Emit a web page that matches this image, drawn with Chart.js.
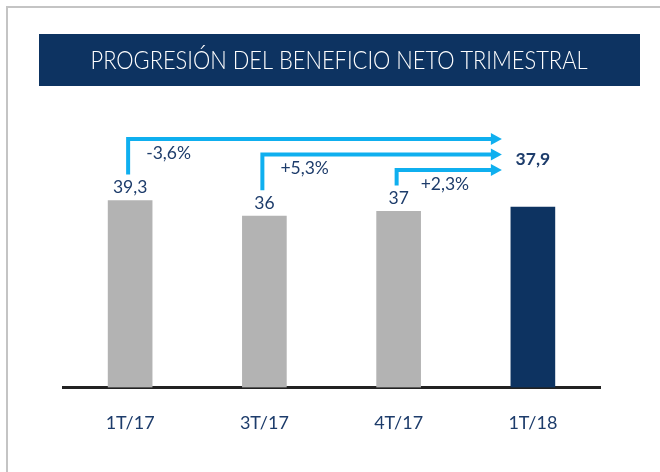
<!DOCTYPE html>
<html>
<head>
<meta charset="utf-8">
<script src="https://cdn.jsdelivr.net/npm/chart.js@4.4.0/dist/chart.umd.min.js"></script>
<style>
  html, body { margin: 0; padding: 0; background: #fff; }
  #wrap { width: 660px; height: 472px; }
</style>
</head>
<body>
<div id="wrap"><canvas id="beneficio"></canvas></div>
<script>
// datos
const titulo = 'PROGRESIÓN DEL BENEFICIO NETO TRIMESTRAL';
const trimestres = ['1T/17', '3T/17', '4T/17', '1T/18'];
const beneficio = [39.3, 36, 37, 37.9];
const variaciones = ['-3,6%', '+5,3%', '+2,3%'];

const NAVY = '#0d3361';
const TEXT = '#1d3c6b';
const GREY = '#b3b3b3';
const BLUE = '#0fafef';

const fmt = v => String(v).replace('.', ',');

const decoPlugin = {
  id: 'deco',
  beforeDraw(chart) {
    const ctx = chart.ctx;
    ctx.save();
    // marco gris
    ctx.strokeStyle = '#c4c4c4';
    ctx.lineWidth = 2;
    ctx.beginPath();
    ctx.moveTo(7, 472);
    ctx.lineTo(7, 7);
    ctx.lineTo(660, 7);
    ctx.stroke();
    // banda del titulo
    ctx.fillStyle = NAVY;
    ctx.fillRect(39, 34, 601, 52);
    ctx.fillStyle = '#fff';
    ctx.font = '300 25px Lato, "Open Sans", sans-serif';
    ctx.textAlign = 'center';
    ctx.textBaseline = 'middle';
    ctx.fillText(titulo, 339, 61, 497);
    ctx.restore();
  },
  afterDatasetsDraw(chart) {
    const ctx = chart.ctx;
    const bars = chart.getDatasetMeta(0).data;
    const last = bars[bars.length - 1];
    ctx.save();
    ctx.textBaseline = 'middle';
    ctx.textAlign = 'center';

    // valores sobre las barras
    ctx.fillStyle = TEXT;
    ctx.font = '17.5px Lato, sans-serif';
    for (let i = 0; i < bars.length - 1; i++) {
      ctx.fillText(fmt(beneficio[i]), bars[i].x, bars[i].y - 13);
    }
    ctx.font = 'bold 17.5px Lato, sans-serif';
    ctx.fillText(fmt(beneficio[bars.length - 1]), last.x, last.y - 48);

    // flechas hacia el ultimo trimestre
    const tipX = last.x - last.width / 2 - 9;
    for (let i = 0; i < variaciones.length; i++) {
      const b = bars[i];
      const x0 = b.x - 2;
      const yBottom = b.y - 26;
      const yLevel = last.y - 68 + i * 15.5;
      ctx.strokeStyle = BLUE;
      ctx.fillStyle = BLUE;
      ctx.lineWidth = 4;
      ctx.lineJoin = 'miter';
      ctx.beginPath();
      ctx.moveTo(x0, yBottom);
      ctx.lineTo(x0, yLevel);
      ctx.lineTo(tipX - 10, yLevel);
      ctx.stroke();
      ctx.beginPath();
      ctx.moveTo(tipX - 11, yLevel - 6);
      ctx.lineTo(tipX, yLevel);
      ctx.lineTo(tipX - 11, yLevel + 6);
      ctx.closePath();
      ctx.fill();

      ctx.fillStyle = TEXT;
      ctx.font = '17.5px Lato, sans-serif';
      ctx.textAlign = 'left';
      ctx.fillText(variaciones[i], x0 + 18 + (i === 2 ? 6 : 0), yLevel + 14);
      ctx.textAlign = 'center';
    }
    ctx.restore();
  }
};

new Chart(document.getElementById('beneficio'), {
  type: 'bar',
  data: {
    labels: trimestres,
    datasets: [{
      data: beneficio,
      backgroundColor: beneficio.map((v, i) => i === beneficio.length - 1 ? NAVY : GREY),
      barThickness: 44,
      borderWidth: 0
    }]
  },
  options: {
    responsive: true,
    maintainAspectRatio: false,
    animation: false,
    layout: { padding: { left: 63, right: 60, top: 102, bottom: 13 } },
    plugins: {
      legend: { display: false },
      tooltip: { enabled: false }
    },
    scales: {
      y: { display: false, min: 0, max: 60 },
      x: {
        grid: { display: false, drawTicks: false },
        border: { display: true, color: '#222', width: 3 },
        ticks: { color: TEXT, padding: 25, font: { family: 'Lato', size: 18 } }
      }
    }
  },
  plugins: [decoPlugin]
});
</script>
</body>
</html>
